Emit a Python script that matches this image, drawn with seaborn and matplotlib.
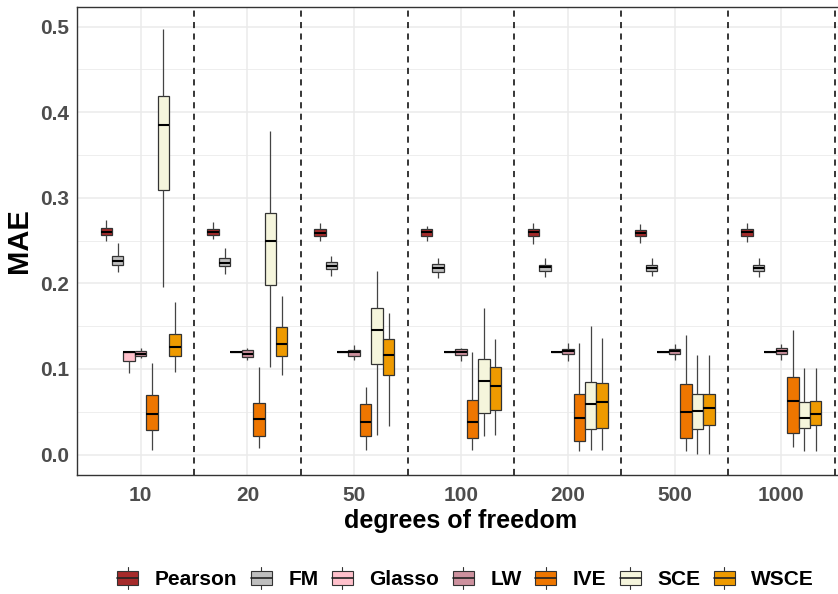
import numpy as np
import pandas as pd
import matplotlib
matplotlib.use("Agg")
import matplotlib.pyplot as plt
import seaborn as sns
from matplotlib.legend_handler import HandlerBase
from matplotlib.patches import Rectangle, Patch
from matplotlib.lines import Line2D

# ---------------- data (lo, q1, median, q3, hi) per degrees-of-freedom group ----
dof_labels = ["10", "20", "50", "100", "200", "500", "1000"]
methods = ["Pearson", "FM", "Glasso", "LW", "IVE", "SCE", "WSCE"]
colors = ["#A52A2A", "#BEBEBE", "#FFC0CB", "#CD919E", "#EE7600", "#F5F5DC", "#EE9A00"]

pearson = [(0.250, 0.2566, 0.2605, 0.2644, 0.274),
           (0.252, 0.2562, 0.2605, 0.2636, 0.272),
           (0.249, 0.255, 0.259, 0.264, 0.270),
           (0.249, 0.2558, 0.260, 0.264, 0.2667),
           (0.2465, 0.2558, 0.260, 0.2636, 0.271),
           (0.247, 0.255, 0.259, 0.2628, 0.2694),
           (0.2485, 0.2558, 0.260, 0.2636, 0.270)]
fm = [(0.213, 0.222, 0.2263, 0.2325, 0.247),
      (0.211, 0.220, 0.224, 0.2294, 0.241),
      (0.2083, 0.2169, 0.220, 0.2247, 0.2325),
      (0.2064, 0.213, 0.218, 0.2224, 0.2297),
      (0.2071, 0.215, 0.2188, 0.222, 0.2297),
      (0.2085, 0.2143, 0.2178, 0.222, 0.2297),
      (0.2078, 0.2143, 0.2182, 0.222, 0.2297)]
glasso = [(0.0954, 0.109, 0.1195, 0.1202, 0.1202),
          (0.12, 0.12, 0.12, 0.12, 0.12),
          (0.12, 0.12, 0.12, 0.12, 0.12),
          (0.12, 0.12, 0.12, 0.12, 0.12),
          (0.12, 0.12, 0.12, 0.12, 0.12),
          (0.12, 0.12, 0.12, 0.12, 0.12),
          (0.12, 0.12, 0.12, 0.12, 0.12)]
lw = [(0.1128, 0.1155, 0.118, 0.1205, 0.125),
      (0.111, 0.1139, 0.118, 0.1217, 0.1244),
      (0.110, 0.1157, 0.1195, 0.1227, 0.1277),
      (0.1098, 0.1164, 0.120, 0.1238, 0.1246),
      (0.109, 0.1176, 0.1207, 0.1235, 0.1305),
      (0.110, 0.1176, 0.1207, 0.1235, 0.129),
      (0.110, 0.1176, 0.1207, 0.1242, 0.129)]
ive = [(0.0058, 0.0288, 0.0474, 0.070, 0.107),
       (0.0074, 0.0218, 0.042, 0.0599, 0.1023),
       (0.005, 0.0214, 0.0378, 0.0592, 0.079),
       (0.0058, 0.0195, 0.0378, 0.0642, 0.1195),
       (0.0039, 0.0164, 0.0428, 0.0709, 0.1305),
       (0.0047, 0.0195, 0.0498, 0.0829, 0.140),
       (0.0086, 0.0249, 0.0623, 0.0908, 0.146)]
sce = [(0.1956, 0.3087, 0.385, 0.419, 0.497),
       (0.1019, 0.1975, 0.250, 0.2827, 0.378),
       (0.0234, 0.106, 0.1452, 0.1713, 0.215),
       (0.0214, 0.0487, 0.0864, 0.1118, 0.1713),
       (0.005, 0.0296, 0.0596, 0.0849, 0.1507),
       (0.0012, 0.030, 0.0506, 0.0705, 0.1168),
       (0.0039, 0.0307, 0.0432, 0.0611, 0.1012)]
wsce = [(0.096, 0.1147, 0.126, 0.1407, 0.1777),
        (0.0925, 0.115, 0.129, 0.1485, 0.1847),
        (0.033, 0.0935, 0.1168, 0.1355, 0.1655),
        (0.0234, 0.0526, 0.0806, 0.1024, 0.135),
        (0.0058, 0.0312, 0.0611, 0.0833, 0.1363),
        (0.0012, 0.0343, 0.0549, 0.0705, 0.1168),
        (0.0039, 0.0347, 0.0471, 0.0631, 0.1012)]

series = dict(zip(methods, [pearson, fm, glasso, lw, ive, sce, wsce]))

rows = []
for m in methods:
    for d, stats in zip(dof_labels, series[m]):
        for v in stats:
            rows.append({"dof": d, "method": m, "MAE": v})
df = pd.DataFrame(rows)

# ---------------- figure ----------------
sns.set_theme(style="white")
plt.rcParams["font.family"] = ["Liberation Sans", "DejaVu Sans"]

W, H = 838, 594
fig = plt.figure(figsize=(W / 100, H / 100), dpi=100)
left, right, top, bottom = 76.5, 845.5, 7.3, 474.5
ax = fig.add_axes([left / W, 1 - bottom / H, (right - left) / W, (bottom - top) / H])

edge = "#333333"
sns.boxplot(data=df, x="dof", y="MAE", hue="method", order=dof_labels,
            hue_order=methods, palette=colors, saturation=1, width=0.75, gap=0,
            whis=np.inf, linewidth=0.9, linecolor=edge, fliersize=0, legend=False,
            ax=ax,
            medianprops=dict(color="black", linewidth=1.5),
            whiskerprops=dict(color="#444444", linewidth=0.9),
            capprops=dict(linewidth=0))

for xv in np.arange(0.5, 7.0, 1.0):
    ax.axvline(xv, color="black", lw=1.1, ls=(0, (4, 3.5)), zorder=1.5)

ax.set_xlim(-0.6, 6.6)
ax.set_ylim(-0.0233, 0.5225)
ax.set_yticks(np.arange(0, 0.51, 0.1))
ax.set_yticks(np.arange(0.05, 0.51, 0.1), minor=True)
ax.set_yticklabels(["0.0", "0.1", "0.2", "0.3", "0.4", "0.5"])
ax.set_axisbelow(True)
ax.grid(True, which="major", color="#EBEBEB", lw=1.1)
ax.grid(True, which="minor", axis="y", color="#EBEBEB", lw=0.6)
for s in ax.spines.values():
    s.set_color(edge)
    s.set_linewidth(1.0)
ax.tick_params(axis="both", which="major", length=3, width=0.8, color=edge,
               labelcolor="#4D4D4D", labelsize=15, pad=2)
ax.tick_params(axis="x", pad=5)
ax.tick_params(which="minor", length=0)
for lab in ax.get_xticklabels() + ax.get_yticklabels():
    lab.set_fontweight("bold")

ax.set_xlabel("degrees of freedom", fontsize=18, fontweight="bold", color="black", labelpad=3)
ax.set_ylabel("MAE", fontsize=21, fontweight="bold", color="black", labelpad=5)


# ---------------- legend with boxplot-style keys ----------------
class BoxKey(HandlerBase):
    def create_artists(self, legend, orig_handle, xdescent, ydescent, width, height,
                       fontsize, trans):
        x0, y0 = -xdescent, -ydescent
        fc = orig_handle.get_facecolor()
        bw = width * 0.92
        bx = x0 + (width - bw) / 2
        rect = Rectangle((bx, y0 + 0.17 * height), bw, 0.66 * height, facecolor=fc,
                         edgecolor=edge, lw=0.8, transform=trans)
        cx = x0 + width / 2
        w1 = Line2D([cx, cx], [y0, y0 + 0.17 * height], color=edge, lw=0.8, transform=trans)
        w2 = Line2D([cx, cx], [y0 + 0.83 * height, y0 + height], color=edge, lw=0.8, transform=trans)
        med = Line2D([bx, bx + bw], [y0 + 0.5 * height] * 2, color="#222222", lw=1.2,
                     transform=trans)
        return [w1, w2, rect, med]


handles = [Patch(facecolor=c, edgecolor=edge) for c in colors]
leg = fig.legend(handles, methods, handler_map={Patch: BoxKey()}, loc="center",
                 bbox_to_anchor=(465 / W, 1 - 578 / H), ncol=7, frameon=False,
                 prop=dict(family="Liberation Sans", weight="bold", size=15),
                 handlelength=1.1, handleheight=1.2, handletextpad=0.75,
                 columnspacing=0.6, borderaxespad=0)
for t in leg.get_texts():
    t.set_color("black")

fig.savefig("out.png", dpi=100)
